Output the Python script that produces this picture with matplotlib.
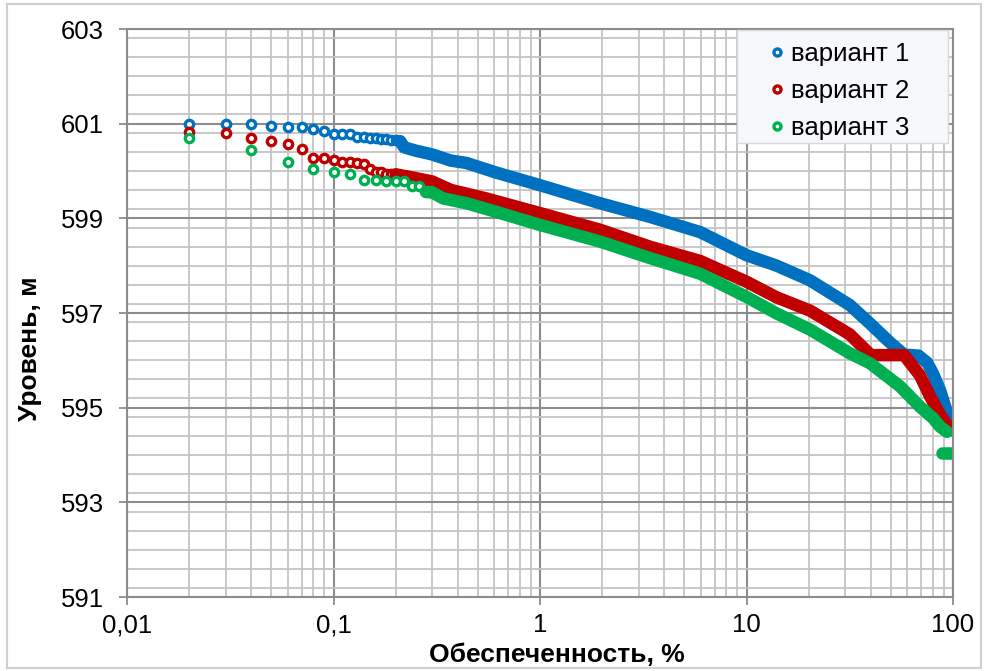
import matplotlib
matplotlib.use('Agg')
import matplotlib.pyplot as plt
from matplotlib.patches import Rectangle
from matplotlib.ticker import FixedLocator, MultipleLocator, LogLocator, NullFormatter

matplotlib.rcParams['font.family'] = ['Liberation Sans', 'DejaVu Sans']

# variant 1 (blue): separate early points and the dense part of the curve
v1_pts_p = [0.02, 0.03, 0.04, 0.05, 0.06, 0.07, 0.08, 0.09, 0.10, 0.11,
            0.12, 0.13, 0.14, 0.15, 0.16, 0.17, 0.18, 0.19, 0.20, 0.21]
v1_pts_h = [601.00, 601.00, 601.00, 600.96, 600.93, 600.92, 600.88, 600.84, 600.79, 600.79,
            600.78, 600.72, 600.71, 600.70, 600.69, 600.68, 600.67, 600.66, 600.65, 600.63]
v1_curve_p = [0.21, 0.22, 0.25, 0.30, 0.37, 0.44, 0.61, 1.0, 1.95, 3.41, 5.96, 10, 14,
              20.3, 31.6, 39.6, 50, 58, 68, 75, 80, 86.5, 92, 96, 99.5]
v1_curve_h = [600.63, 600.50, 600.43, 600.35, 600.22, 600.17, 599.97, 599.70, 599.32, 599.03,
              598.71, 598.22, 598.00, 597.69, 597.17, 596.78, 596.36, 596.12, 596.10, 595.95,
              595.72, 595.37, 595.00, 594.75, 594.52]

# variant 2 (red)
v2_pts_p = [0.02, 0.03, 0.04, 0.05, 0.06, 0.07, 0.08, 0.09, 0.10, 0.11,
            0.12, 0.13, 0.14, 0.15, 0.16, 0.17, 0.18, 0.19, 0.20]
v2_pts_h = [600.82, 600.81, 600.70, 600.64, 600.58, 600.46, 600.27, 600.27, 600.24, 600.20,
            600.18, 600.17, 600.15, 600.04, 599.98, 599.97, 599.94, 599.93, 599.93]
v2_curve_p = [0.20, 0.25, 0.30, 0.37, 0.55, 1.0, 1.95, 3.41, 5.96, 10, 14, 20.3, 31.6,
              40, 58, 69.2, 77.6, 86.5, 97]
v2_curve_h = [599.93, 599.85, 599.78, 599.60, 599.42, 599.11, 598.76, 598.40, 598.10, 597.66,
              597.33, 597.05, 596.55, 596.11, 596.11, 595.68, 595.23, 594.85, 594.53]

# variant 3 (green)
v3_pts_p = [0.02, 0.04, 0.06, 0.08, 0.10, 0.12, 0.14, 0.16, 0.18, 0.20,
            0.22, 0.24, 0.26, 0.28]
v3_pts_h = [600.69, 600.45, 600.18, 600.05, 599.97, 599.94, 599.82, 599.82, 599.79, 599.79,
            599.78, 599.69, 599.69, 599.56]
v3_curve_p = [0.28, 0.30, 0.34, 0.44, 0.61, 1.0, 1.95, 3.41, 5.96, 10, 14, 20.3, 31.6,
              39.6, 55.4, 69.2, 80, 86.5, 93.5]
v3_curve_h = [599.56, 599.55, 599.42, 599.32, 599.14, 598.86, 598.51, 598.16, 597.83, 597.34,
              596.99, 596.65, 596.15, 595.94, 595.45, 595.02, 594.78, 594.60, 594.49]
v3_tail_p = [88, 99]
v3_tail_h = [594.05, 594.05]

labels = ['вариант 1', 'вариант 2', 'вариант 3']
colors = ['#0070C0', '#C00000', '#00B050']

fig = plt.figure(figsize=(9.88, 6.71), dpi=100)
ax = fig.add_axes([127/988, 1 - 597/671, 826/988, 568/671])

series = [
    (v1_pts_p, v1_pts_h, [(v1_curve_p, v1_curve_h)]),
    (v2_pts_p, v2_pts_h, [(v2_curve_p, v2_curve_h)]),
    (v3_pts_p, v3_pts_h, [(v3_curve_p, v3_curve_h), (v3_tail_p, v3_tail_h)]),
]
handles = []
for (pp, ph, curves), lab, c in zip(series, labels, colors):
    h, = ax.plot(pp, ph, 'o', ls='none', ms=6.0, mew=2.4, mfc='white', mec=c, label=lab)
    handles.append(h)
    for cp, ch in curves:
        ax.plot(cp, ch, '-', lw=9, color=c, solid_capstyle='round', solid_joinstyle='round')

ax.set_xscale('log')
ax.set_xlim(0.01, 100)
ax.set_ylim(591, 603)
ax.xaxis.set_major_locator(FixedLocator([0.01, 0.1, 1, 10, 100]))
ax.set_xticklabels(['0,01', '0,1', '1', '10', '100'])
ax.xaxis.set_minor_locator(LogLocator(base=10, subs=range(2, 10)))
ax.xaxis.set_minor_formatter(NullFormatter())
ax.set_yticks(range(591, 604, 2))
ax.yaxis.set_minor_locator(MultipleLocator(0.4))

ax.set_axisbelow(True)
ax.grid(which='major', color='#8c8c8c', lw=1.5)
ax.grid(which='minor', color='#c4c4c4', lw=1.3)
for s in ax.spines.values():
    s.set_color('#8c8c8c')
    s.set_linewidth(1.5)
ax.tick_params(which='major', direction='out', length=5.8, width=1.3, color='#8c8c8c',
               labelsize=18.5)
ax.tick_params(axis='y', which='major', pad=11)
ax.tick_params(axis='x', which='major', pad=6)
ax.tick_params(which='minor', length=0)

ax.set_xlabel('Обеспеченность, %', fontsize=19, fontweight='bold', va='center')
ax.xaxis.set_label_coords(0.5206, -0.102)
ax.set_ylabel('Уровень, м', fontsize=19, fontweight='bold', va='center')
ax.yaxis.set_label_coords(-0.117, 0.438)

box = Rectangle((0.7385, 0.7993), 0.2554, 0.199, transform=ax.transAxes,
                facecolor='#f6f8fb', edgecolor='#d9d9d9', lw=1, zorder=5)
ax.add_patch(box)
leg = ax.legend(handles=handles, loc='upper left', bbox_to_anchor=(0.7712, 0.977),
                frameon=False, borderpad=0, borderaxespad=0, handlelength=1.0,
                handletextpad=0.05, labelspacing=0.5, fontsize=18.5, markerscale=0.85)
leg.set_zorder(6)

fig.patches.append(Rectangle((0.007, 0.005), 0.986, 0.989, transform=fig.transFigure,
                             fill=False, edgecolor='#d0d0d0', lw=1.5))

fig.savefig('out.png', dpi=100)
